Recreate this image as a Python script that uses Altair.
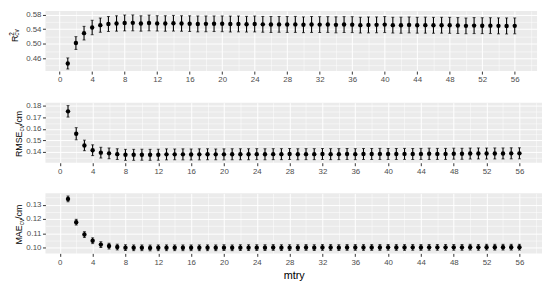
import altair as alt
import pandas as pd

mtry = list(range(1, 57))

r2_mean = [0.446, 0.502, 0.529, 0.5445, 0.551, 0.554, 0.5555, 0.557, 0.5572, 0.5555,
           0.557, 0.5558, 0.5555, 0.5562, 0.5555, 0.555, 0.5543, 0.5545, 0.5548, 0.5546,
           0.554, 0.5543, 0.5535, 0.5542, 0.5532, 0.5528, 0.553, 0.5528, 0.553, 0.552,
           0.5528, 0.5525, 0.5527, 0.5518, 0.5526, 0.5524, 0.551, 0.5516, 0.5518, 0.5525,
           0.551, 0.5508, 0.5516, 0.5508, 0.551, 0.5506, 0.5508, 0.5505, 0.5498, 0.549,
           0.5497, 0.5495, 0.5496, 0.549, 0.5488, 0.549]
r2_err = [0.0152, 0.0175, 0.0187, 0.0198, 0.0195, 0.0205, 0.021, 0.0218, 0.0218, 0.021,
          0.0215, 0.021, 0.0212, 0.0215, 0.0212, 0.0215, 0.0218, 0.0216, 0.0214, 0.0216,
          0.0218, 0.0217, 0.0215, 0.0218, 0.0216, 0.0218, 0.0215, 0.0217, 0.0219, 0.0216,
          0.0218, 0.0217, 0.0216, 0.0219, 0.0217, 0.0218, 0.0216, 0.0218, 0.0217, 0.0219,
          0.0216, 0.022, 0.0218, 0.0217, 0.0219, 0.0218, 0.0217, 0.0219, 0.0218, 0.0216,
          0.0219, 0.0218, 0.0217, 0.0219, 0.022, 0.0218]

rmse_mean = [0.1753, 0.1558, 0.1456, 0.1414, 0.1393, 0.1387, 0.1380, 0.1374, 0.1374, 0.1375,
             0.1374, 0.1375, 0.1378, 0.1378, 0.1378, 0.1377, 0.1378, 0.1379, 0.1378, 0.1378,
             0.1379, 0.1379, 0.1379, 0.1380, 0.1379, 0.1380, 0.1380, 0.1381, 0.1379, 0.1380,
             0.1380, 0.1381, 0.1380, 0.1380, 0.1381, 0.1380, 0.1381, 0.1381, 0.1382, 0.1381,
             0.1381, 0.1382, 0.1381, 0.1382, 0.1383, 0.1382, 0.1382, 0.1384, 0.1383, 0.1385,
             0.1386, 0.1385, 0.1386, 0.1386, 0.1387, 0.1387]
rmse_err = [0.0050, 0.0053, 0.0046, 0.0047, 0.0047, 0.0047, 0.0047, 0.0048, 0.0048, 0.0048,
            0.0048, 0.0048, 0.0048, 0.0047, 0.0048, 0.0048, 0.0048, 0.0048, 0.0047, 0.0048,
            0.0048, 0.0048, 0.0048, 0.0048, 0.0048, 0.0048, 0.0048, 0.0048, 0.0048, 0.0048,
            0.0048, 0.0048, 0.0048, 0.0048, 0.0048, 0.0048, 0.0048, 0.0048, 0.0048, 0.0048,
            0.0048, 0.0048, 0.0048, 0.0048, 0.0049, 0.0048, 0.0048, 0.0048, 0.0048, 0.0048,
            0.0048, 0.0048, 0.0048, 0.0048, 0.0048, 0.0048]

mae_mean = [0.1340, 0.1178, 0.1092, 0.1049, 0.1022, 0.1012, 0.1005, 0.1001, 0.1000, 0.1000,
            0.0999, 0.1000, 0.1000, 0.1000, 0.1000, 0.1000, 0.1000, 0.1000, 0.1000, 0.1001,
            0.1000, 0.1001, 0.1001, 0.1001, 0.1001, 0.1002, 0.1001, 0.1001, 0.1001, 0.1002,
            0.1001, 0.1002, 0.1002, 0.1001, 0.1002, 0.1002, 0.1002, 0.1002, 0.1002, 0.1003,
            0.1002, 0.1002, 0.1003, 0.1002, 0.1003, 0.1003, 0.1003, 0.1003, 0.1003, 0.1004,
            0.1003, 0.1004, 0.1004, 0.1004, 0.1004, 0.1004]
mae_err = [0.0020] * 56

x_ticks = list(range(0, 59, 2))
r2_ticks = [0.44, 0.46, 0.48, 0.50, 0.52, 0.54, 0.56, 0.58]
rmse_ticks = [0.135, 0.14, 0.145, 0.15, 0.155, 0.16, 0.165, 0.17, 0.175, 0.18]
mae_ticks = [0.10, 0.105, 0.11, 0.115, 0.12, 0.125, 0.13, 0.135]

FONT = "Liberation Sans"
BG = "#EBEBEB"
LABEL = "#4D4D4D"


def cond(test, a, b):
    return {"condition": {"test": test, "value": a}, "value": b}


def panel(mean, err, ydomain, yticks, ytest, width, height, titles, xtitle, anchor):
    df = pd.DataFrame({
        "mtry": mtry,
        "m": mean,
        "lo": [a - b for a, b in zip(mean, err)],
        "hi": [a + b for a, b in zip(mean, err)],
    })
    xtest = "datum.value % 4 === 0"
    xaxis_kw = dict(
        values=x_ticks,
        tickCount=len(x_ticks),
        labelExpr="datum.value % 4 === 0 ? datum.label : ''",
        gridColor="white",
        gridWidth=cond(xtest, 1.0, 0.5),
        tickOpacity=cond(xtest, 1, 0),
        domain=False,
        tickColor="#333333",
        tickSize=3,
        tickWidth=1,
        labelPadding=2,
        labelFont=FONT,
        labelFontSize=8,
        labelColor=LABEL,
        labelOverlap=False,
        titleFont=FONT,
        titleFontSize=11,
        titleFontWeight="normal",
        titleColor="black",
        titlePadding=4,
    )
    if xtitle:
        xaxis = alt.Axis(title=xtitle, **xaxis_kw)
    else:
        xaxis = alt.Axis(title=None, **xaxis_kw)
    yaxis = alt.Axis(
        title=None,
        values=yticks,
        tickCount=len(yticks),
        format=".2f",
        labelExpr=f"({ytest}) ? datum.label : ''",
        gridColor="white",
        gridWidth=cond(ytest, 1.0, 0.5),
        tickOpacity=cond(ytest, 1, 0),
        domain=False,
        tickColor="#333333",
        tickSize=3,
        tickWidth=1,
        labelPadding=1.5,
        labelFont=FONT,
        labelFontSize=8,
        labelColor=LABEL,
        labelOverlap=False,
    )
    x = alt.X("mtry:Q", scale=alt.Scale(domain=[-1.75, 58.75], nice=False, zero=False), axis=xaxis)
    yscale = alt.Scale(domain=ydomain, nice=False, zero=False)
    base = alt.Chart(df)
    rules = base.mark_rule(color="black", strokeWidth=1.1).encode(
        x=x, y=alt.Y("lo:Q", scale=yscale, axis=yaxis), y2="hi:Q")
    cap_hi = base.mark_tick(color="black", orient="horizontal", size=3, thickness=1).encode(
        x=x, y=alt.Y("hi:Q", scale=yscale, axis=yaxis))
    cap_lo = base.mark_tick(color="black", orient="horizontal", size=3, thickness=1).encode(
        x=x, y=alt.Y("lo:Q", scale=yscale, axis=yaxis))
    pts = base.mark_circle(color="black", size=20, opacity=1).encode(
        x=x, y=alt.Y("m:Q", scale=yscale, axis=yaxis))
    # invisible anchor fixing the panel's left extent
    anchor_rule = alt.Chart(pd.DataFrame({"a": [0]})).mark_rule(
        strokeOpacity=0, strokeWidth=1).encode(
        x=alt.value(anchor + 0.5), y=alt.value(0), y2=alt.value(1))
    layers = [rules, cap_hi, cap_lo, pts, anchor_rule]
    for txt, fs, bx, sy in titles:
        layers.append(
            alt.Chart(pd.DataFrame({"t": [txt]})).mark_text(
                angle=270, align="left", baseline="alphabetic", font=FONT,
                fontSize=fs, color="black").encode(
                text="t:N", x=alt.value(bx), y=alt.value(sy)))
    return alt.layer(*layers).properties(width=width, height=height)


H = 61
B1 = -28
p1 = panel(r2_mean, r2_err, [0.425, 0.5897], r2_ticks,
           "round(datum.value*100) % 4 === 2", 499, H,
           [("R", 9, B1, 31.5), ("2", 6.5, B1 - 4.2, 25), ("cv", 6.5, B1 + 1.2, 25)], None, -37.6)
B2 = -23.5
p2 = panel(rmse_mean, rmse_err, [0.1305, 0.1829], rmse_ticks,
           "round(datum.value*1000) % 10 === 0", 504, H,
           [("RMSE", 9, B2, 55.25), ("cv", 6.5, B2 + 1.8, 29.25), (" /cm", 9, B2, 22.75)], None, -31.7)
B3 = -23.5
p3 = panel(mae_mean, mae_err, [0.0961, 0.1379], mae_ticks,
           "round(datum.value*1000) % 10 === 0", 504, H,
           [("MAE", 9, B3, 52), ("cv", 6.5, B3 + 1.8, 32.5), (" /cm", 9, B3, 26)], "mtry", -31.7)

chart = alt.concat(p1, p2, p3, columns=1, spacing=18, align="none").properties(
    padding=0
).configure_view(fill=BG, stroke=None)

chart.save("out.html", embed_options={"renderer": "svg", "actions": False})
